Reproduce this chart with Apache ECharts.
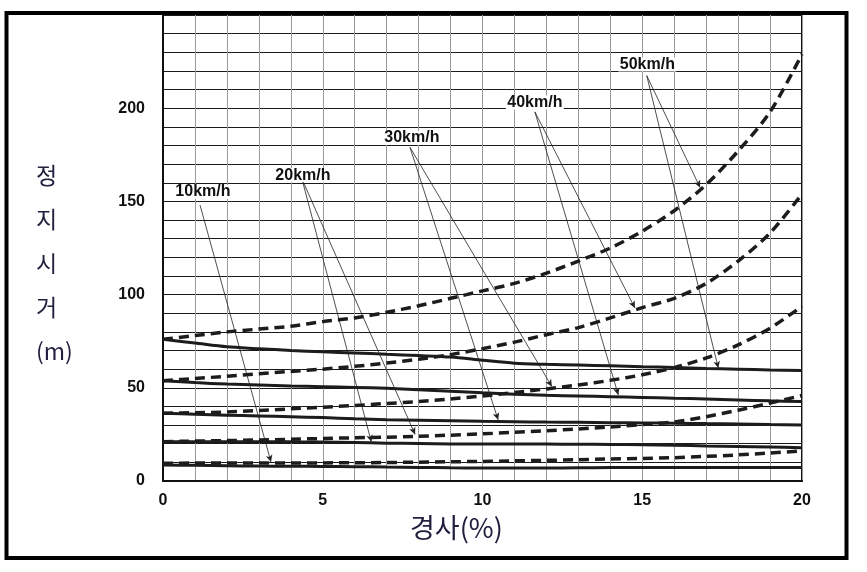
<!DOCTYPE html>
<html>
<head>
<meta charset="utf-8">
<script src="https://cdn.jsdelivr.net/npm/echarts@6/dist/echarts.min.js"></script>
<style>
  html, body { margin: 0; padding: 0; background: #fff; }
  #main { width: 867px; height: 572px; }
</style>
</head>
<body>
<div id="main"></div>
<script>
// 경사 (%)
var grades = [0, 1, 2, 3, 4, 5, 6, 7, 8, 9, 10, 11, 12, 13, 14, 15, 16, 17, 18, 19, 20];

// 실선 (오르막)
var up10 = [8.6, 8.4, 8.2, 8.0, 7.9, 7.8, 7.7, 7.5, 7.3, 7.1, 7.0, 7.0, 7.0, 7.1, 7.2, 7.2, 7.2, 7.2, 7.2, 7.2, 7.2];
var up20 = [21.1, 21.1, 21.1, 21.1, 21.0, 20.9, 20.7, 20.3, 20.1, 19.9, 19.8, 19.8, 19.8, 19.7, 19.6, 19.5, 19.2, 18.8, 18.5, 18.2, 17.9];
var up30 = [36.4, 35.8, 35.3, 34.9, 34.5, 34.0, 33.4, 32.9, 32.6, 32.3, 32.0, 31.8, 31.6, 31.5, 31.3, 31.1, 31.0, 30.8, 30.6, 30.3, 30.1];
var up40 = [53.8, 52.8, 52.0, 51.5, 51.0, 50.6, 50.2, 49.7, 49.0, 48.2, 47.3, 46.5, 46.0, 45.6, 45.2, 44.8, 44.4, 44.0, 43.5, 43.0, 42.6];
var up50 = [76.0, 74.0, 72.0, 71.0, 70.0, 69.3, 68.7, 68.0, 67.3, 66.5, 64.8, 63.2, 62.6, 62.2, 61.8, 61.3, 60.9, 60.4, 60.0, 59.6, 59.3];

// 점선 (내리막)
var down10 = [9.5, 9.6, 9.6, 9.6, 9.6, 9.7, 9.8, 9.9, 10.1, 10.3, 10.5, 10.8, 11.1, 11.4, 11.8, 12.1, 12.5, 13.2, 14.0, 15.0, 16.1];
var down20 = [21.1, 21.4, 21.7, 22.0, 22.4, 22.8, 23.2, 23.5, 24.0, 24.6, 25.3, 26.1, 27.0, 27.9, 29.0, 30.3, 31.7, 34.5, 38.0, 41.8, 45.9];
var down30 = [36.4, 36.6, 37.0, 37.8, 38.7, 39.6, 40.5, 41.6, 42.6, 44.0, 45.6, 47.5, 49.4, 51.5, 54.0, 57.0, 60.8, 66.0, 73.0, 82.0, 93.7];
var down40 = [53.8, 55.0, 56.2, 57.5, 58.8, 60.0, 61.5, 63.3, 65.3, 67.8, 71.0, 74.5, 78.5, 82.3, 87.5, 93.0, 98.0, 106.0, 118.0, 133.0, 154.0];
var down50 = [76.0, 78.0, 80.0, 81.5, 83.0, 85.5, 87.5, 90.5, 94.0, 98.0, 102.0, 106.0, 111.5, 118.0, 125.0, 134.0, 145.0, 159.0, 177.0, 198.0, 229.0];

// 속도 라벨과 화살표 (데이터 좌표)
var speedNames = ['10km/h', '20km/h', '30km/h', '40km/h', '50km/h'];
var labelAt = [[1.25, 155], [4.38, 164], [7.79, 184], [11.64, 203], [15.16, 223.5]];
var arrowFrom = [[1.16, 148], [4.35, 162], [7.73, 179], [11.64, 198], [15.14, 217.5]];
var arrowTo = [
    [[3.38, 10.2]],
    [[6.52, 21.0], [7.89, 25.0]],
    [[10.49, 32.8], [12.17, 50.7]],
    [[14.25, 46.2], [14.77, 92.8]],
    [[16.81, 157.4], [17.38, 60.6]]
];

var yTicks = [0, 50, 100, 150, 200];
var xTicks = [0, 5, 10, 15, 20];

var myChart = echarts.init(document.getElementById('main'));

function pairs(vals) {
    return grades.map(function (g, i) { return [g, vals[i]]; });
}

function solid(vals) {
    return {
        type: 'line', data: pairs(vals), smooth: 0.3, symbol: 'none', silent: true,
        lineStyle: { color: '#1c1c1c', width: 3 }
    };
}

function dashed(vals) {
    return {
        type: 'line', data: pairs(vals), smooth: 0.3, symbol: 'none', silent: true,
        lineStyle: { color: '#1c1c1c', width: 3.5, type: [10, 6] }
    };
}

var arrowLines = [];
arrowTo.forEach(function (ends, i) {
    ends.forEach(function (e) {
        arrowLines.push([{ coord: arrowFrom[i] }, { coord: e }]);
    });
});

var labelPoints = speedNames.map(function (n, i) {
    return { coord: labelAt[i], value: n };
});

var option = {
    animation: false,
    grid: {
        left: 163, right: 65, top: 15, bottom: 91,
        show: true, borderColor: '#111', borderWidth: 2
    },
    xAxis: {
        type: 'value', min: 0, max: 20, interval: 1,
        axisLine: { lineStyle: { color: '#111', width: 2 } },
        axisTick: { show: false },
        axisLabel: {
            margin: 12, color: '#111', fontSize: 16, fontWeight: 'bold',
            fontFamily: 'Liberation Sans, Arial, sans-serif',
            formatter: function (v) { return xTicks.indexOf(v) >= 0 ? String(v) : ''; }
        },
        splitLine: { show: true, lineStyle: { color: '#9a9a9a', width: 1 } }
    },
    yAxis: {
        type: 'value', min: 0, max: 250, interval: 10,
        axisLine: { show: true, lineStyle: { color: '#111', width: 2 } },
        axisTick: { show: false },
        axisLabel: {
            margin: 18, color: '#111', fontSize: 16, fontWeight: 'bold',
            fontFamily: 'Liberation Sans, Arial, sans-serif',
            formatter: function (v) { return yTicks.indexOf(v) >= 0 ? String(v) : ''; }
        },
        splitLine: { show: true, lineStyle: { color: '#1a1a1a', width: 1 } }
    },
    graphic: [
        {
            type: 'rect', silent: true, z: 100,
            shape: { x: 6.5, y: 13, width: 840, height: 545 },
            style: { fill: 'none', stroke: '#000', lineWidth: 4 }
        },
        {
            type: 'text', left: 36, top: 153, silent: true,
            style: {
                text: '정\n지\n시\n거\n(m)', fill: '#20203f', fontSize: 23,
                fontFamily: 'Noto Sans CJK KR', lineHeight: 44, align: 'center'
            }
        },
        {
            type: 'text', left: 410, top: 514, silent: true,
            style: {
                text: '경사(%)', fill: '#20203f', fontSize: 27,
                fontFamily: 'Noto Sans CJK KR'
            }
        }
    ],
    series: [
        solid(up10), solid(up20), solid(up30), solid(up40), solid(up50),
        dashed(down10), dashed(down20), dashed(down30), dashed(down40), dashed(down50),
        {
            type: 'line', data: [], silent: true,
            markLine: {
                silent: true, animation: false,
                symbol: ['none', 'arrow'], symbolSize: [5, 7],
                label: { show: false },
                lineStyle: { color: '#222', width: 0.8, type: 'solid' },
                data: arrowLines
            },
            markPoint: {
                silent: true, symbol: 'rect', symbolSize: [58, 14],
                itemStyle: { color: '#fff' },
                label: {
                    show: true, position: 'inside', color: '#111', fontSize: 16, fontWeight: 'bold',
                    fontFamily: 'Liberation Sans, Arial, sans-serif',
                    formatter: function (p) { return p.value; }
                },
                data: labelPoints
            }
        }
    ]
};

option && myChart.setOption(option);
</script>
</body>
</html>
